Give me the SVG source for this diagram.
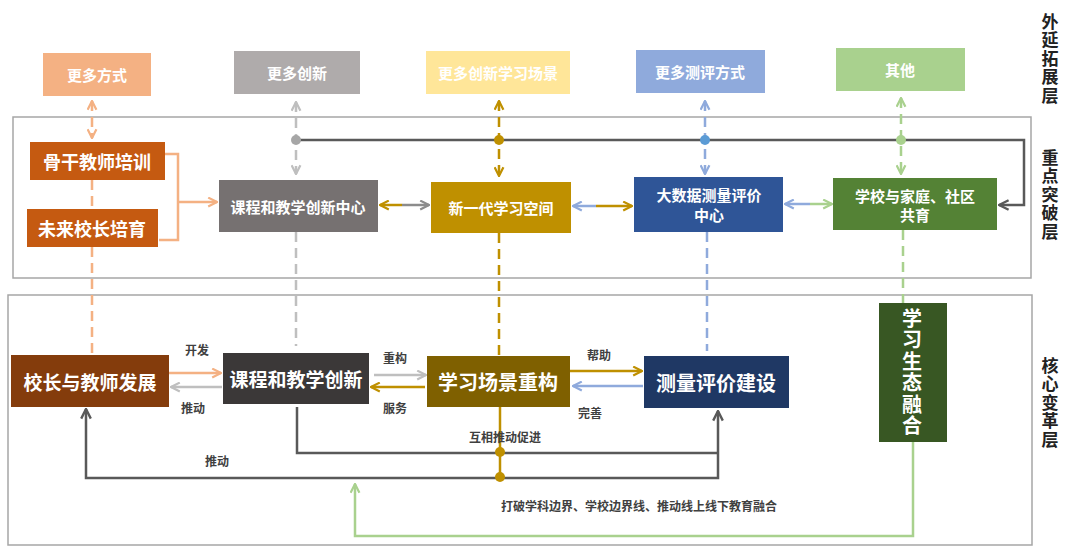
<svg xmlns="http://www.w3.org/2000/svg" width="1069" height="559" viewBox="0 0 1069 559">
<style>
.bt{font-family:"Noto Sans CJK SC","Noto Sans",sans-serif;fill:#fff;text-anchor:middle;dominant-baseline:central;font-weight:bold}
.vt{font-family:"Noto Sans CJK SC","Noto Sans",sans-serif;writing-mode:vertical-rl;text-orientation:upright;text-anchor:middle;font-weight:bold}
.lb{font-family:"Noto Sans CJK SC","Noto Sans",sans-serif;fill:#404040;text-anchor:middle;dominant-baseline:central;font-size:12px;font-weight:bold}
.side{fill:#222;font-size:17px;letter-spacing:1.5px}
.panel{fill:none;stroke:#A6A6A6;stroke-width:1.5}
.dash{fill:none;stroke-width:2.5;stroke-dasharray:10 6}
.sol{fill:none;stroke-width:2.5}
.dk{stroke:#595959}
</style>
<defs>
<marker id="aO" viewBox="0 0 10 10" refX="9" refY="5" markerUnits="userSpaceOnUse" markerWidth="11" markerHeight="11" orient="auto-start-reverse"><path d="M1,1 L9,5 L1,9" fill="none" stroke="#F4B183" stroke-width="2"/></marker>
<marker id="aG" viewBox="0 0 10 10" refX="9" refY="5" markerUnits="userSpaceOnUse" markerWidth="11" markerHeight="11" orient="auto-start-reverse"><path d="M1,1 L9,5 L1,9" fill="none" stroke="#BFBFBF" stroke-width="2"/></marker>
<marker id="aM" viewBox="0 0 10 10" refX="9" refY="5" markerUnits="userSpaceOnUse" markerWidth="11" markerHeight="11" orient="auto-start-reverse"><path d="M1,1 L9,5 L1,9" fill="none" stroke="#8C8C8C" stroke-width="2"/></marker>
<marker id="aY" viewBox="0 0 10 10" refX="9" refY="5" markerUnits="userSpaceOnUse" markerWidth="11" markerHeight="11" orient="auto-start-reverse"><path d="M1,1 L9,5 L1,9" fill="none" stroke="#BF9000" stroke-width="2"/></marker>
<marker id="aB" viewBox="0 0 10 10" refX="9" refY="5" markerUnits="userSpaceOnUse" markerWidth="11" markerHeight="11" orient="auto-start-reverse"><path d="M1,1 L9,5 L1,9" fill="none" stroke="#8FAADC" stroke-width="2"/></marker>
<marker id="aN" viewBox="0 0 10 10" refX="9" refY="5" markerUnits="userSpaceOnUse" markerWidth="11" markerHeight="11" orient="auto-start-reverse"><path d="M1,1 L9,5 L1,9" fill="none" stroke="#A9D18E" stroke-width="2"/></marker>
<marker id="aD" viewBox="0 0 10 10" refX="9" refY="5" markerUnits="userSpaceOnUse" markerWidth="12" markerHeight="12" orient="auto-start-reverse"><path d="M1,1 L9,5 L1,9" fill="none" stroke="#595959" stroke-width="2"/></marker>
</defs>
<rect width="1069" height="559" fill="#fff"/>

<!-- panels -->
<rect class="panel" x="13" y="117" width="1018" height="161"/>
<rect class="panel" x="8" y="295" width="1024" height="250"/>

<!-- side labels -->
<g id="side-outer"><text class="vt side" x="1050" y="59">外延拓展层</text></g>
<g id="side-key"><text class="vt side" x="1050" y="195">重点突破层</text></g>
<g id="side-core"><text class="vt side" x="1050" y="403">核心变革层</text></g>

<!-- connectors -->
<g id="connectors">
<path class="dash" stroke="#F4B183" d="M92,101 L92,138" marker-start="url(#aO)" marker-end="url(#aO)"/>
<path class="dash" stroke="#F4B183" d="M92,180 L92,209"/>
<path class="dash" stroke="#F4B183" d="M92,247 L92,355"/>

<path class="dash" stroke="#BFBFBF" d="M296,102 L296,174" marker-start="url(#aG)" marker-end="url(#aG)"/>
<path class="dash" stroke="#BFBFBF" d="M296,232 L296,346"/>

<path class="dash" stroke="#BF9000" d="M499,101 L499,176" marker-start="url(#aY)" marker-end="url(#aY)"/>
<path class="dash" stroke="#BF9000" d="M499,233 L499,356"/>

<path class="dash" stroke="#8FAADC" d="M705,101 L705,174" marker-start="url(#aB)" marker-end="url(#aB)"/>
<path class="dash" stroke="#8FAADC" d="M707,232 L707,351"/>

<path class="dash" stroke="#A9D18E" d="M901,98 L901,174" marker-start="url(#aN)" marker-end="url(#aN)"/>
<path class="dash" stroke="#A9D18E" d="M903,230 L903,303"/>

<path class="sol dk" d="M296,140 L1024,140 L1024,205 L999,205" marker-end="url(#aD)"/>
<circle cx="296" cy="140" r="5" fill="#A6A6A6"/>
<circle cx="499" cy="140" r="5" fill="#BF9000"/>
<circle cx="705" cy="140" r="5" fill="#5B9BD5"/>
<circle cx="901" cy="140" r="5" fill="#A9D18E"/>

<path class="sol" stroke="#F4B183" stroke-width="2" d="M165,154 L178,154 L178,240 L159,240"/>
<path class="sol" stroke="#F4B183" stroke-width="2" d="M178,202 L217,202" marker-end="url(#aO)"/>

<path class="sol" stroke="#BF9000" d="M402,205 L380,205" marker-end="url(#aY)"/>
<path class="sol" stroke="#8C8C8C" d="M402,205 L429,205" marker-end="url(#aM)"/>
<path class="sol" stroke="#8FAADC" d="M596,206 L573,206" marker-end="url(#aB)"/>
<path class="sol" stroke="#BF9000" d="M596,206 L632,206" marker-end="url(#aY)"/>
<path class="sol" stroke="#8FAADC" d="M810,204 L785,204" marker-end="url(#aB)"/>
<path class="sol" stroke="#A9D18E" d="M810,204 L832,204" marker-end="url(#aN)"/>

<path class="sol" stroke="#F4B183" d="M169,373 L221,373" marker-end="url(#aO)"/>
<path class="sol" stroke="#BFBFBF" d="M222,387 L171,387" marker-end="url(#aG)"/>
<path class="sol" stroke="#BFBFBF" d="M374,375 L426,375" marker-end="url(#aG)"/>
<path class="sol" stroke="#BF9000" d="M425,387 L371,387" marker-end="url(#aY)"/>
<path class="sol" stroke="#BF9000" d="M570,371 L642,371" marker-end="url(#aY)"/>
<path class="sol" stroke="#8FAADC" d="M643,386 L573,386" marker-end="url(#aB)"/>

<path class="sol dk" d="M86,409 L86,478 L718,478 L718,411" marker-start="url(#aD)" marker-end="url(#aD)"/>
<path class="sol dk" d="M297,407 L297,453 L718,453"/>

<path class="sol" stroke="#BF9000" d="M500,407 L500,477"/>
<circle cx="500" cy="452" r="5" fill="#BF9000"/>
<circle cx="500" cy="477" r="5" fill="#BF9000"/>

<path class="sol" stroke="#A9D18E" d="M913,442 L913,536 L355,536 L355,484" marker-end="url(#aN)"/>

<text class="lb" x="197" y="349">开发</text>
<text class="lb" x="193" y="407">推动</text>
<text class="lb" x="395" y="357">重构</text>
<text class="lb" x="395" y="407">服务</text>
<text class="lb" x="599" y="354">帮助</text>
<text class="lb" x="590" y="412">完善</text>
<text class="lb" x="217" y="460">推动</text>
<text class="lb" x="505" y="436" font-size="13">互相推动促进</text>
<text class="lb" x="639" y="505" font-size="13">打破学科边界、学校边界线、推动线上线下教育融合</text>
</g>

<g id="n-more-ways"><rect x="43" y="53" width="108" height="43" fill="#F4B183"/><text class="bt" x="97" y="74.5" font-size="15">更多方式</text></g>
<g id="n-more-innov"><rect x="234" y="51" width="126" height="43" fill="#AFABAB"/><text class="bt" x="297" y="72.5" font-size="15">更多创新</text></g>
<g id="n-more-scene"><rect x="426" y="51" width="144" height="43" fill="#FFE699"/><text class="bt" x="498" y="72.5" font-size="15">更多创新学习场景</text></g>
<g id="n-more-eval"><rect x="636" y="50" width="129" height="43" fill="#8FAADC"/><text class="bt" x="700" y="71.5" font-size="15">更多测评方式</text></g>
<g id="n-other"><rect x="836" y="48" width="129" height="43" fill="#A9D18E"/><text class="bt" x="900" y="69.5" font-size="15">其他</text></g>

<g id="n-teacher-train"><rect x="30" y="142" width="135" height="38" fill="#C55A11"/><text class="bt" x="97" y="161" font-size="18">骨干教师培训</text></g>
<g id="n-principal-train"><rect x="27" y="209" width="131" height="38" fill="#C55A11"/><text class="bt" x="92" y="228" font-size="18">未来校长培育</text></g>
<g id="n-course-center"><rect x="219" y="180" width="159" height="52" fill="#767171"/><text class="bt" x="298" y="206" font-size="15">课程和教学创新中心</text></g>
<g id="n-new-space"><rect x="431" y="182" width="140" height="51" fill="#BF9000"/><text class="bt" x="501" y="207.5" font-size="15">新一代学习空间</text></g>
<g id="n-bigdata"><rect x="634" y="177" width="149" height="55" fill="#2F5597"/><text class="bt" x="709" y="194" font-size="15">大数据测量评价</text><text class="bt" x="709" y="214" font-size="15">中心</text></g>
<g id="n-home"><rect x="833" y="178" width="164" height="52" fill="#548235"/><text class="bt" x="915" y="195" font-size="15">学校与家庭、社区</text><text class="bt" x="915" y="214" font-size="15">共育</text></g>

<g id="n-principal-dev"><rect x="11" y="355" width="158" height="52" fill="#843C0C"/><text class="bt" x="90" y="381" font-size="19">校长与教师发展</text></g>
<g id="n-course-innov"><rect x="223" y="353" width="146" height="51" fill="#3B3838"/><text class="bt" x="296" y="378.5" font-size="19">课程和教学创新</text></g>
<g id="n-scene-rebuild"><rect x="427" y="356" width="143" height="51" fill="#7F6000"/><text class="bt" x="498" y="381.5" font-size="20">学习场景重构</text></g>
<g id="n-eval-build"><rect x="644" y="356" width="145" height="52" fill="#1F3864"/><text class="bt" x="716" y="382" font-size="20">测量评价建设</text></g>
<g id="n-ecology"><rect x="879" y="303" width="68" height="139" fill="#385723"/>
<text class="vt" x="912" y="372.5" font-size="20" fill="#fff" letter-spacing="1.5">学习生态融合</text></g>
</svg>
